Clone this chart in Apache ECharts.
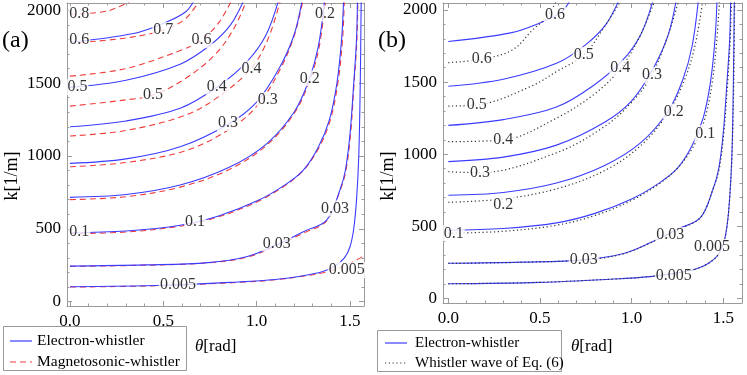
<!DOCTYPE html>
<html><head><meta charset="utf-8">
<script src="https://cdn.jsdelivr.net/npm/echarts@6/dist/echarts.min.js"></script>
<style>html,body{margin:0;padding:0;background:#fff}#c{width:747px;height:375px}</style>
</head><body><div id="c"></div>
<script>
// ---- tick labels ----
const thetaTicks = [0, 0.5, 1.0, 1.5];
const thetaMinor = [0.1,0.2,0.3,0.4,0.6,0.7,0.8,0.9,1.1,1.2,1.3,1.4];
const kTicks = [0, 500, 1000, 1500, 2000];
const kMinor = [100,200,300,400,600,700,800,900,1100,1200,1300,1400,1600,1700,1800,1900];

// ---- electron-whistler contours (theta [rad], k [1/m]) ----
const ew_0_005 = [[0,102],[0.5,112],[0.9,135],[1.1,152],[1.25,178],[1.35,205],[1.42,245],[1.47,300],[1.5,377],[1.52,500],[1.535,700],[1.547,1000],[1.555,1500],[1.56,2080]];
const ew_0_03  = [[0,244],[0.4,252],[0.74,268],[0.95,310],[1.107,390],[1.25,480],[1.375,560],[1.446,766],[1.475,900],[1.5,1150],[1.52,1500],[1.535,1800],[1.54,2080]];
const ew_0_1   = [[0,473],[0.3,485],[0.59,524],[0.8,590],[1.0,690],[1.15,800],[1.25,903],[1.33,1060],[1.39,1250],[1.43,1500],[1.455,1800],[1.466,2080]];
const ew_0_2   = [[0,716],[0.3,735],[0.59,800],[0.85,920],[1.05,1080],[1.2,1300],[1.28,1520],[1.33,1750],[1.365,2080]];
const ew_0_3   = [[0,949],[0.3,980],[0.59,1063],[0.85,1220],[1.0,1370],[1.12,1600],[1.2,1830],[1.245,2080]];
const ew_0_4   = [[0,1200],[0.3,1240],[0.59,1327],[0.79,1475],[0.95,1650],[1.05,1830],[1.12,2080]];
const ew_0_5   = [[0,1471],[0.3,1520],[0.59,1630],[0.75,1760],[0.86,1900],[0.935,2080]];
const ew_0_6   = [[0,1781],[0.34,1841],[0.5,1910],[0.62,1990],[0.67,2080]];

// ---- magnetosonic-whistler contours (panel a) ----
const mw_0_005 = [[0,100],[0.5,110],[0.9,132],[1.1,150],[1.25,175],[1.35,197],[1.42,222],[1.48,252],[1.53,283],[1.58,318]];
const mw_0_03  = [[0,242],[0.4,250],[0.74,266],[0.95,306],[1.107,385],[1.25,470],[1.375,555],[1.446,760],[1.478,900],[1.503,1150],[1.522,1500],[1.537,1800],[1.542,2080]];
const mw_0_1   = [[0,466],[0.3,478],[0.59,518],[0.8,584],[1.0,684],[1.15,795],[1.25,900],[1.335,1060],[1.395,1250],[1.435,1500],[1.46,1800],[1.47,2080]];
const mw_0_2   = [[0,700],[0.3,720],[0.59,786],[0.85,905],[1.05,1070],[1.2,1290],[1.285,1520],[1.335,1750],[1.37,2080]];
const mw_0_3   = [[0,926],[0.3,955],[0.62,1036],[0.85,1180],[1.0,1340],[1.12,1580],[1.2,1820],[1.25,2080]];
const mw_0_4   = [[0,1137],[0.3,1175],[0.62,1281],[0.8,1410],[0.97,1601],[1.06,1800],[1.13,2080]];
const mw_0_5   = [[0,1342],[0.3,1385],[0.445,1418],[0.62,1533],[0.78,1700],[0.88,1880],[0.95,2080]];
const mw_0_6   = [[0,1548],[0.3,1600],[0.62,1738],[0.705,1795],[0.8,1920],[0.87,2080]];
const mw_0_7   = [[0,1773],[0.3,1810],[0.5,1864],[0.62,1944],[0.7,2080]];
const mw_0_8   = [[0,1974],[0.2,1995],[0.35,2080]];

// ---- whistler wave of Eq. (6) contours (panel b) ----
const wq_0_005 = [[0,102],[0.5,112],[0.9,135],[1.1,152],[1.25,178],[1.35,205],[1.42,245],[1.47,300],[1.5,377],[1.52,500],[1.535,700],[1.548,1000],[1.557,1500],[1.562,2080]];
const wq_0_03  = [[0,243],[0.4,251],[0.74,267],[0.95,308],[1.107,388],[1.25,478],[1.375,560],[1.446,766],[1.478,900],[1.503,1150],[1.524,1500],[1.538,1800],[1.545,2080]];
const wq_0_1   = [[0,452],[0.3,466],[0.59,508],[0.8,575],[1.0,680],[1.15,795],[1.25,903],[1.34,1060],[1.4,1250],[1.44,1500],[1.465,1800],[1.48,2080]];
const wq_0_2   = [[0,667],[0.3,690],[0.59,760],[0.85,885],[1.05,1060],[1.2,1290],[1.29,1520],[1.345,1750],[1.39,2080]];
const wq_0_3   = [[0,879],[0.17,872],[0.59,1010],[0.85,1190],[1.0,1360],[1.11,1549],[1.2,1830],[1.26,2080]];
const wq_0_4   = [[0,1087],[0.3,1099],[0.59,1250],[0.8,1420],[0.94,1596],[1.05,1830],[1.13,2080]];
const wq_0_5   = [[0,1334],[0.155,1341],[0.45,1470],[0.6,1580],[0.74,1688],[0.86,1900],[0.95,2080]];
const wq_0_6   = [[0,1635],[0.18,1658],[0.35,1723],[0.46,1862],[0.53,1942],[0.6,2080]];

// ---- contour labels [theta, k, text] ----
const labelsA = [[0.05,1974,'0.8'],[0.05,1795,'0.6'],[0.5,1864,'0.7'],[0.705,1795,'0.6'],[0.04,1472,'0.5'],[0.445,1418,'0.5'],
  [0.786,1475,'0.4'],[0.973,1601,'0.4'],[0.846,1226,'0.3'],[1.06,1383,'0.3'],[1.285,1533,'0.2'],[1.366,1979,'0.2'],
  [0.05,478,'0.1'],[0.67,548,'0.1'],[1.107,400,'0.03'],[1.42,640,'0.03'],[0.578,114,'0.005'],[1.482,217,'0.005']];
const labelsB = [[0.182,1658,'0.6'],[0.582,1965,'0.6'],[0.155,1341,'0.5'],[0.739,1688,'0.5'],[0.3,1099,'0.4'],[0.938,1596,'0.4'],
  [0.173,872,'0.3'],[1.111,1549,'0.3'],[0.3,648,'0.2'],[1.23,1295,'0.2'],[0.03,452,'0.1'],[1.402,1145,'0.1'],
  [0.739,267,'0.03'],[1.211,440,'0.03'],[1.23,156,'0.005'],[1.439,359,'0.005']];

const electron = [ew_0_005, ew_0_03, ew_0_1, ew_0_2, ew_0_3, ew_0_4, ew_0_5, ew_0_6];
const magneto = [mw_0_005, mw_0_03, mw_0_1, mw_0_2, mw_0_3, mw_0_4, mw_0_5, mw_0_6, mw_0_7, mw_0_8];
const eq6 = [wq_0_005, wq_0_03, wq_0_1, wq_0_2, wq_0_3, wq_0_4, wq_0_5, wq_0_6];

const FONT = '"Liberation Serif", "Times New Roman", serif';
const FRAME = '#9a9a9a';
const BLUE = '#3c3cff';
const RED = '#f03c3c';

const panels = [
  {left:67, top:3, width:297, height:303, x:[-0.016,1.575], y:[-30,2050]},
  {left:443, top:3, width:299, height:300, x:[-0.029,1.602], y:[-31,2048]}
];
const grids = [], xAxes = [], yAxes = [];
panels.forEach((p, i) => {
  for (let m = 0; m < 2; m++) {
    const g = grids.length;
    grids.push({left:p.left, top:p.top, width:p.width, height:p.height, containLabel:false});
    const major = m === 0;
    ['bottom','top'].forEach((pos, j) => {
      xAxes.push({type:'value', gridIndex:g, position:pos, min:p.x[0], max:p.x[1],
        axisLine:{show:major, onZero:false, lineStyle:{color:FRAME, width:1}},
        axisTick:{show:true, inside:true, length: major?5:2.5, customValues: major?thetaTicks:thetaMinor, lineStyle:{color:FRAME}},
        axisLabel:{show: major && j===0, customValues: thetaTicks, formatter: v => v.toFixed(1), color:'#000', fontFamily:FONT, fontSize:17, margin:7},
        splitLine:{show:false}});
    });
    ['left','right'].forEach((pos, j) => {
      yAxes.push({type:'value', gridIndex:g, position:pos, min:p.y[0], max:p.y[1],
        axisLine:{show:major, onZero:false, lineStyle:{color:FRAME, width:1}},
        axisTick:{show:true, inside:true, length: major?5:2.5, customValues: major?kTicks:kMinor, lineStyle:{color:FRAME}},
        axisLabel:{show: major && j===0, customValues: kTicks, formatter: v => String(Math.round(v)), color:'#000', fontFamily:FONT, fontSize:17, margin:6},
        splitLine:{show:false}});
    });
  }
});

const series = [];
function addLines(list, panel, color, type, width) {
  list.forEach(d => series.push({type:'line', xAxisIndex: panel*4, yAxisIndex: panel*4, data:d, showSymbol:false, symbol:'none',
    smooth:0.35, clip:true, silent:true, lineStyle:{color:color, width:width, type:type}, z:2}));
}
addLines(magneto, 0, RED, [6,4], 1.1);
addLines(electron, 0, BLUE, 'solid', 1.1);
addLines(electron, 1, BLUE, 'solid', 1.1);
addLines(eq6, 1, '#333', [1.2,2.6], 1.2);
[labelsA, labelsB].forEach((L, panel) => {
  series.push({type:'scatter', xAxisIndex: panel*4, yAxisIndex: panel*4, symbolSize:1, itemStyle:{color:'rgba(0,0,0,0)'}, z:5, silent:true,
    data: L.map(a => ({value:[a[0], a[1]], name:a[2]})),
    label:{show:true, position:'inside', formatter: p => p.name, color:'#000', fontFamily:FONT, fontSize:16,
      backgroundColor:'#fff', padding:[0,1]}});
});

const graphic = [
  {type:'text', left:2, top:29, style:{text:'(a)', font:'24px "Liberation Serif"', fill:'#000'}},
  {type:'text', left:378, top:29, style:{text:'(b)', font:'24px "Liberation Serif"', fill:'#000'}},
  {type:'text', x:12, y:176, rotation:Math.PI/2, style:{text:'k[1/m]', font:'18px "Liberation Serif"', fill:'#000', align:'center', verticalAlign:'middle'}},
  {type:'text', x:388, y:176, rotation:Math.PI/2, style:{text:'k[1/m]', font:'18px "Liberation Serif"', fill:'#000', align:'center', verticalAlign:'middle'}},
  {type:'text', x:195, y:347, style:{text:'{i|θ}[rad]', rich:{i:{fontStyle:'italic', fontFamily:'Liberation Serif', fontSize:17}}, font:'17px "Liberation Serif"', fill:'#000', verticalAlign:'middle'}},
  {type:'text', x:571, y:347, style:{text:'{i|θ}[rad]', rich:{i:{fontStyle:'italic', fontFamily:'Liberation Serif', fontSize:17}}, font:'17px "Liberation Serif"', fill:'#000', verticalAlign:'middle'}},
  // legend boxes
  {type:'rect', shape:{x:3.5, y:326.5, width:183, height:44}, style:{fill:'#fff', stroke:'#999', lineWidth:1}},
  {type:'line', shape:{x1:10, y1:341, x2:32, y2:341}, style:{stroke:BLUE, lineWidth:1.2}},
  {type:'line', shape:{x1:10, y1:362, x2:32, y2:362}, style:{stroke:RED, lineWidth:1.2, lineDash:[6,4]}},
  {type:'text', x:37, y:341, style:{text:'Electron-whistler', font:'15.5px "Liberation Serif"', fill:'#000', verticalAlign:'middle'}},
  {type:'text', x:37, y:362, style:{text:'Magnetosonic-whistler', font:'15.5px "Liberation Serif"', fill:'#000', verticalAlign:'middle'}},
  {type:'rect', shape:{x:377.5, y:330.5, width:184, height:41}, style:{fill:'#fff', stroke:'#999', lineWidth:1}},
  {type:'line', shape:{x1:385, y1:343, x2:407, y2:343}, style:{stroke:BLUE, lineWidth:1.2}},
  {type:'line', shape:{x1:385, y1:363, x2:407, y2:363}, style:{stroke:'#333', lineWidth:1.2, lineDash:[1.2,2.6]}},
  {type:'text', x:415, y:343, style:{text:'Electron-whistler', font:'15px "Liberation Serif"', fill:'#000', verticalAlign:'middle'}},
  {type:'text', x:415, y:363, style:{text:'Whistler wave of Eq. (6)', font:'15px "Liberation Serif"', fill:'#000', verticalAlign:'middle'}}
];

const chart = echarts.init(document.getElementById('c'), null, {renderer:'canvas'});
chart.setOption({animation:false, backgroundColor:'#fff', grid:grids, xAxis:xAxes, yAxis:yAxes, series:series, graphic:graphic});
</script></body></html>
